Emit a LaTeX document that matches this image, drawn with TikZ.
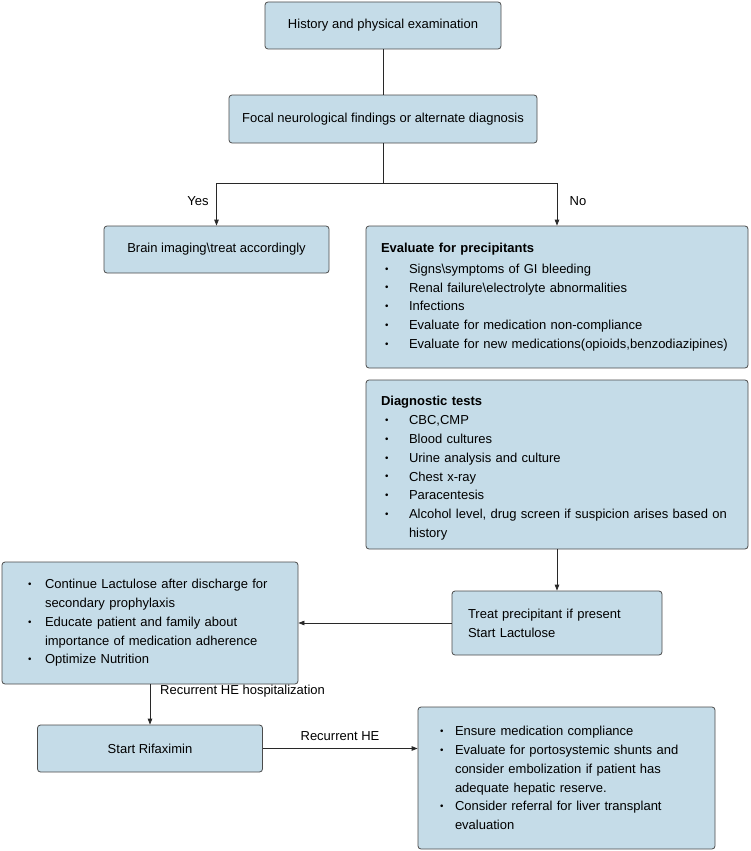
\documentclass[tikz,border=0pt]{standalone}
\usepackage{fontspec}
\setmainfont{Liberation Sans}
\usetikzlibrary{arrows.meta}
\definecolor{boxfill}{RGB}{197,220,232}
\definecolor{boxline}{RGB}{75,75,75}
\definecolor{lineclr}{RGB}{40,40,40}
\newcommand\sbul{\raisebox{0.15ex}{\scalebox{0.75}{\textbullet}}}
\newcommand\itm[3]{\hspace*{#1}\makebox[#2][l]{\sbul}#3}
\newcommand\cnt[2]{\hspace*{#1}#2}
\begin{document}
\begin{tikzpicture}[x=1pt,y=-1pt,
  font=\fontsize{13}{18.7}\selectfont,
  box/.style={draw=boxline, fill=boxfill, rounded corners=3pt, line width=0.8pt, inner sep=0pt},
  conn/.style={draw=lineclr, line width=0.8pt},
  arr/.style={conn, -{Triangle[length=6pt,width=4.5pt]}},
  lbl/.style={inner sep=0pt}]
\useasboundingbox (0,0) rectangle (751,851);

\node[box, minimum width=236pt, minimum height=47pt] (hist) at (383,25.5) {History and physical examination};
\node[box, minimum width=308pt, minimum height=48pt] (focal) at (383,119) {Focal neurological findings or alternate diagnosis};
\node[box, minimum width=225pt, minimum height=47pt] (brain) at (216.5,249.5) {Brain imaging\textbackslash treat accordingly};

\node[box, minimum width=382pt, minimum height=142pt, text width=352pt, align=left] (eval) at (557,297) {%
\textbf{Evaluate for precipitants}\\[2pt]
\itm{4pt}{24pt}{Signs\textbackslash symptoms of GI bleeding}\\
\itm{4pt}{24pt}{Renal failure\textbackslash electrolyte abnormalities}\\
\itm{4pt}{24pt}{Infections}\\
\itm{4pt}{24pt}{Evaluate for medication non-compliance}\\
\itm{4pt}{24pt}{Evaluate for new medications(opioids,benzodiazipines)}};

\node[box, minimum width=382pt, minimum height=169pt, text width=352pt, align=left] (diag) at (557,464.5) {%
\rule{0pt}{16pt}\textbf{Diagnostic tests}\\[1pt]
\itm{4pt}{24pt}{CBC,CMP}\\
\itm{4pt}{24pt}{Blood cultures}\\
\itm{4pt}{24pt}{Urine analysis and culture}\\
\itm{4pt}{24pt}{Chest x-ray}\\
\itm{4pt}{24pt}{Paracentesis}\\
\itm{4pt}{24pt}{Alcohol level, drug screen if suspicion arises based on}\\
\cnt{28pt}{history}};

\node[box, minimum width=210pt, minimum height=64pt, text width=178pt, align=left] (treat) at (557,623) {%
Treat precipitant if present\\
Start Lactulose};

\node[box, minimum width=296pt, minimum height=122pt, text width=266pt, align=left] (cont) at (150,623) {%
\itm{11pt}{17pt}{Continue Lactulose after discharge for}\\
\cnt{28pt}{secondary prophylaxis}\\
\itm{11pt}{17pt}{Educate patient and family about}\\
\cnt{28pt}{importance of medication adherence}\\
\itm{11pt}{17pt}{Optimize Nutrition}};

\node[box, minimum width=225pt, minimum height=47pt] (rif) at (150,748.5) {Start Rifaximin};

\node[box, minimum width=297pt, minimum height=142pt, text width=267pt, align=left] (last) at (566.5,778) {%
\itm{7pt}{15pt}{Ensure medication compliance}\\
\itm{7pt}{15pt}{Evaluate for portosystemic shunts and}\\
\cnt{22pt}{consider embolization if patient has}\\
\cnt{22pt}{adequate hepatic reserve.}\\
\itm{7pt}{15pt}{Consider referral for liver transplant}\\
\cnt{22pt}{evaluation}};

\coordinate (split) at (383,183);
\draw[conn] (hist.south) -- (focal.north);
\draw[conn] (focal.south) -- (split);
\draw[arr] (split) -| (brain.north);
\draw[arr] (split) -| (eval.north);
\draw[arr] (diag.south) -- (treat.north);
\draw[arr] (treat.west) -- (cont.east |- treat.west);
\draw[arr] (cont.south) -- (rif.north);
\draw[arr] (rif.east) -- (rif.east -| last.west);

\node[lbl] (yes) at (198,201) {Yes};
\node[lbl] (no) at (578,201) {No};
\node[lbl, anchor=west] (rhh) at (160,691) {Recurrent HE hospitalization};
\node[lbl] (rhe) at (340,736) {Recurrent HE};
\end{tikzpicture}
\end{document}
